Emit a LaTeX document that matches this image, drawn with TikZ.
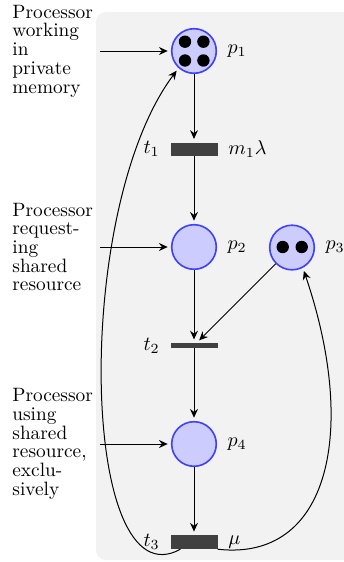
\documentclass[tikz,border=0pt]{standalone}
\usetikzlibrary{arrows.meta}
\begin{document}
\begin{tikzpicture}[x=0.5pt,y=-0.5pt,
  font=\fontsize{9.66}{9.35}\selectfont,
  place/.style={circle,draw=blue!75,fill=blue!20,line width=0.8pt,minimum size=22.3pt,inner sep=0pt},
  trans/.style={rectangle,fill=black!75,draw=none,minimum width=23.5pt,minimum height=6.5pt,inner sep=0pt},
  token/.style={circle,fill=black,minimum size=6.2pt,inner sep=0pt},
  conn/.style={line width=0.5pt,-{Stealth[length=4.4pt,width=4pt,inset=1.5pt]},shorten >=1.6pt},
  lab/.style={inner sep=0pt,label distance=5pt},
  desc/.style={align=left,inner sep=3.33pt,anchor=east}]
\useasboundingbox (0,0) rectangle (343,562);
\fill[black!5,rounded corners=5pt] (96,12) rectangle (420,560);

% places
\node[place,label={[lab,name=lp1]right:$p_1$}] (p1) at (194,51) {};
\node[place,label={[lab,name=lp2]right:$p_2$}] (p2) at (194,247) {};
\node[place,label={[lab,name=lp3]right:$p_3$}] (p3) at (292,247.5) {};
\node[place,label={[lab,name=lp4]right:$p_4$}] (p4) at (194,444) {};

% tokens
\node[token] (k1) at (185,41.7) {};
\node[token] (k2) at (203.4,41.7) {};
\node[token] (k3) at (185,60.5) {};
\node[token] (k4) at (203.4,60.5) {};
\node[token] (k5) at (282.7,247) {};
\node[token] (k6) at (301.7,247) {};

% transitions
\node[trans,label={[lab,name=lt1]left:$t_1$},label={[lab,name=lr1]right:$m_1\lambda$}] (t1) at (194,149) {};
\node[trans,minimum height=2.5pt,label={[lab,name=lt2]left:$t_2$}] (t2) at (194,345.5) {};
\node[trans,minimum height=6.8pt,label={[lab,name=lt3]left:$t_3$},label={[lab,name=lr3]right:$\mu$}] (t3) at (194,542) {};

% descriptions
\node[desc] (d1) at (100,51) {Processor\\working\\in\\private\\memory};
\node[desc] (d2) at (100,247) {Processor\\request-\\ing\\shared\\resource};
\node[desc] (d3) at (100,444) {Processor\\using\\shared\\resource,\\exclu-\\sively};

% arcs
\draw[conn] (d1) -- (p1);
\draw[conn] (d2) -- (p2);
\draw[conn] (d3) -- (p4);
\draw[conn] (p1) -- (t1);
\draw[conn] (t1) -- (p2);
\draw[conn] (p2) -- (t2);
\draw[conn] (p3) -- (t2);
\draw[conn] (t2) -- (p4);
\draw[conn] (p4) -- (t3);
\draw[conn] (t3.-152) .. controls (80,605) and (72,210) .. (p1.-132);
\draw[conn] (t3.-17) .. controls (330,562) and (358,430) .. (p3.-62);
\end{tikzpicture}
\end{document}
